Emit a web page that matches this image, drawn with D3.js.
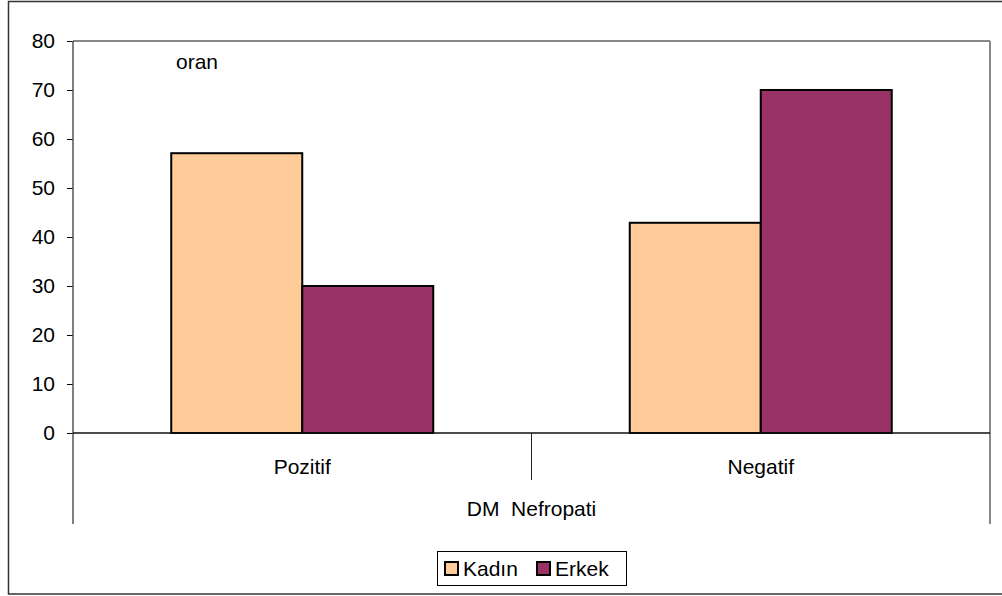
<!DOCTYPE html>
<html><head><meta charset="utf-8">
<script src="https://cdn.jsdelivr.net/npm/d3@7"></script>
<style>
html,body{margin:0;padding:0;background:#fff;}
svg{display:block;font-family:"Liberation Sans",Arial,sans-serif;}
</style></head>
<body><svg id="c" width="1002" height="596"></svg>
<script>
const categories = ["Pozitif", "Negatif"];
const seriesNames = ["Kadın", "Erkek"];
const kadin = [57.1, 42.9];
const erkek = [30.0, 70.0];
const yTicks = [0, 10, 20, 30, 40, 50, 60, 70, 80];
const axisTitle = "DM  Nefropati";
const yLabel = "oran";
const colors = ["#FFCC99", "#993366"];

const values = [kadin, erkek];
const svg = d3.select("#c");
const L = 73, R = 990, T = 41, B = 433;
const FS = 21;

// outer border
svg.append("rect").attr("x", 8.5).attr("y", 1.5).attr("width", 1010).attr("height", 592.5)
  .attr("fill", "none").attr("stroke", "#333").attr("stroke-width", 1.5);

const y = d3.scaleLinear().domain([0, 80]).range([B, T]);
const x0 = d3.scaleBand().domain(categories).range([L, R]).padding(0);
const x1 = d3.scaleBand().domain(seriesNames).range([0, x0.bandwidth()]).paddingInner(0).paddingOuter(0.75);

// plot frame top & right
svg.append("line").attr("x1", L).attr("x2", R).attr("y1", T).attr("y2", T).attr("stroke", "#888").attr("stroke-width", 2);
svg.append("line").attr("x1", R).attr("x2", R).attr("y1", T).attr("y2", 524).attr("stroke", "#888").attr("stroke-width", 2);

// bars
categories.forEach((c, ci) => {
  seriesNames.forEach((s, si) => {
    const v = values[si][ci];
    svg.append("rect")
      .attr("x", x0(c) + x1(s)).attr("y", y(v))
      .attr("width", x1.bandwidth()).attr("height", y(0) - y(v))
      .attr("fill", colors[si]).attr("stroke", "#000").attr("stroke-width", 2);
  });
});

// y axis
const yAxis = svg.append("g").attr("transform", `translate(${L},0)`)
  .call(d3.axisLeft(y).tickValues(yTicks).tickSize(6).tickPadding(12).tickSizeOuter(0));
yAxis.select(".domain").remove();
yAxis.selectAll(".tick line").attr("stroke", "#000");
yAxis.selectAll("text").attr("font-size", FS).attr("fill", "#000")
  .attr("font-family", "Liberation Sans, Arial, sans-serif");
svg.append("line").attr("x1", L).attr("x2", L).attr("y1", T).attr("y2", 524).attr("stroke", "#555").attr("stroke-width", 1.5);

// zero line
svg.append("line").attr("x1", L).attr("x2", R).attr("y1", B).attr("y2", B).attr("stroke", "#111").attr("stroke-width", 1.6);

// category separator
categories.slice(1).forEach(c => {
  svg.append("line").attr("x1", x0(c)).attr("x2", x0(c)).attr("y1", B).attr("y2", 480).attr("stroke", "#222").attr("stroke-width", 1);
});

// category labels
svg.selectAll(".cat").data(categories).enter().append("text")
  .attr("x", d => x0(d) + x0.bandwidth() / 2).attr("y", 474)
  .attr("text-anchor", "middle").attr("font-size", FS).attr("fill", "#000").text(d => d);

svg.append("text").attr("x", (L + R) / 2).attr("y", 516).attr("text-anchor", "middle")
  .attr("font-size", FS).attr("fill", "#000").style("white-space", "pre").text(axisTitle);

svg.append("text").attr("x", 176).attr("y", 69).attr("font-size", FS).attr("fill", "#000").text(yLabel);

// legend
const lg = svg.append("g");
lg.append("rect").attr("x", 437.5).attr("y", 551.5).attr("width", 189).attr("height", 34)
  .attr("fill", "#fff").attr("stroke", "#000").attr("stroke-width", 1);
const lx = [444, 536];
seriesNames.forEach((s, i) => {
  lg.append("rect").attr("x", lx[i] + 1).attr("y", 562).attr("width", 13).attr("height", 13)
    .attr("fill", colors[i]).attr("stroke", "#000").attr("stroke-width", 2);
  lg.append("text").attr("x", lx[i] + 19).attr("y", 576).attr("font-size", FS).attr("fill", "#000").text(s);
});
</script></body></html>
